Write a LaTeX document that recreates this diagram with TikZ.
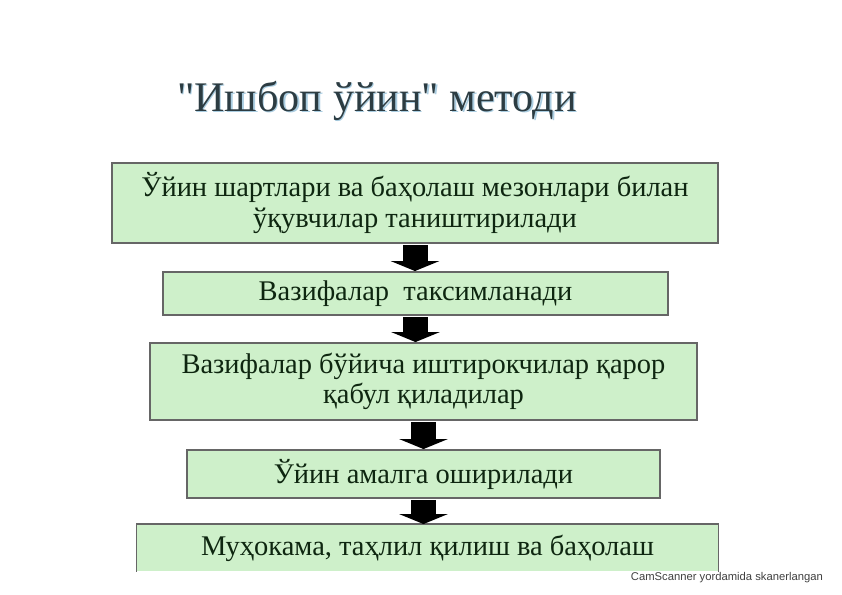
\documentclass[tikz,border=0pt]{standalone}
\usepackage{fontspec}
\setmainfont{Liberation Serif}
\newfontfamily\titlefont{Liberation Serif}[Ligatures=TeXOff]
\newfontfamily\scanfont{Liberation Sans}
\usetikzlibrary{arrows.meta}
\definecolor{boxgreen}{RGB}{206,240,202}
\definecolor{textgreen}{RGB}{14,38,16}
\definecolor{titlegray}{RGB}{44,60,66}
\definecolor{titleglow}{RGB}{170,205,225}
\begin{document}
\begin{tikzpicture}[x=0.03cm,y=-0.03cm,
    stepbox/.style={draw=black!60, line width=1.6pt, fill=boxgreen, align=center,
      text=textgreen, font=\fontsize{24.3}{26}\selectfont, inner sep=0pt},
    flowarrow/.style={line width=0.75cm, -{Triangle[width=1.45cm,length=0.3cm]}}]
  \useasboundingbox (0,0) rectangle (842,595);
  % title
  \node[text=titleglow, font=\titlefont\fontsize{36}{40}\selectfont] at (378.5,102) {"Ишбоп ўйин" методи};
  \node[text=titlegray, font=\titlefont\fontsize{36}{40}\selectfont] (title) at (377,100.5) {"Ишбоп ўйин" методи};
  % steps
  \node[stepbox, minimum width=18.18cm, minimum height=2.4cm] (b1) at (415,203)
    {Ўйин шартлари ва баҳолаш мезонлари билан\\ўқувчилар таништирилади};
  \node[stepbox, minimum width=15.15cm, minimum height=1.29cm] (b2) at (415.5,293.5)
    {Вазифалар\ \ таксимланади};
  \node[stepbox, minimum width=16.41cm, minimum height=2.31cm] (b3) at (423.5,381.5)
    {Вазифалар бўйича иштирокчилар қарор\\қабул қиладилар};
  \node[stepbox, minimum width=14.19cm, minimum height=1.44cm] (b4) at (423.5,474)
    {Ўйин амалга оширилади};
  \node[stepbox, draw=none, minimum width=17.4cm, minimum height=1.38cm] (b5) at (427.5,548)
    {Муҳокама, таҳлил қилиш ва баҳолаш};
  \draw[black!60, line width=1.6pt] (b5.south west) -- (b5.north west) -- (b5.north east) -- (b5.south east);
  % arrows
  \draw[flowarrow] ([yshift=-1pt]b1.south) -- (b1.south |- b2.north);
  \draw[flowarrow] ([yshift=-1pt]b2.south) -- (b2.south |- b3.north);
  \draw[flowarrow] ([yshift=-1pt]b3.south) -- (b3.south |- b4.north);
  \draw[flowarrow] ([yshift=-1pt]b4.south) -- (b4.south |- b5.north);
  % scanner note
  \node[text=black!75, font=\scanfont\fontsize{9.6}{11}\selectfont, anchor=east] (scan) at (827,578)
    {CamScanner yordamida skanerlangan};
\end{tikzpicture}
\end{document}
